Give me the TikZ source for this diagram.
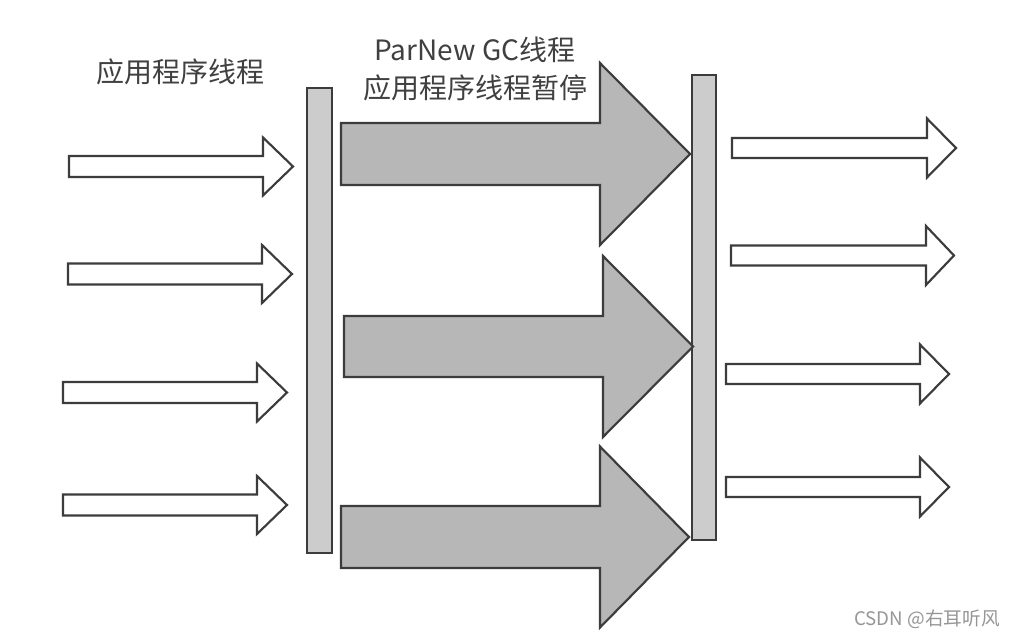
\documentclass[tikz,border=0pt]{standalone}
\usepackage{fontspec}
\setmainfont{Noto Sans CJK SC}
\usetikzlibrary{positioning}
\definecolor{GcLine}{RGB}{60,60,60}
\definecolor{GcBar}{RGB}{204,204,204}
\definecolor{GcPause}{RGB}{183,183,183}
\definecolor{GcText}{RGB}{64,64,64}
\definecolor{GcMark}{RGB}{150,150,150}
\tikzset{
  gc/thread/.style={
    draw=GcLine,
    line width=1.6pt,
    fill=white
  },
  gc/pause/.style={
    draw=GcLine,
    line width=1.6pt,
    fill=GcPause
  },
  gc/bar/.style={
    draw=GcLine,
    line width=1.6pt,
    fill=GcBar,
    inner sep=0pt,
    minimum width=18.5pt,
    minimum height=348.75pt
  },
  gc/label/.style={font=\fontsize{21}{28.5}\selectfont, text=GcText, align=center, inner sep=0pt},
  gc/mark/.style={font=\fontsize{14}{16}\selectfont, text=GcMark, inner sep=0pt}
}
% style, left x, centre y, head base x, tip x, shaft half, head half
\newcommand{\gcarrow}[7]{%
  \draw[#1] (#2,#3-#6) -- (#4,#3-#6) -- (#4,#3-#7) -- (#5,#3)
    -- (#4,#3+#7) -- (#4,#3+#6) -- (#2,#3+#6) -- cycle;}

\begin{document}
\begin{tikzpicture}[x=0.75pt,y=-0.75pt]
  \fill[white] (0,0) rectangle (1014,638);
  \useasboundingbox (0,0) rectangle (1014,638);

  % safepoints
  \node[gc/bar] (stopbar) at (319.5,320.5) {};
  \node[gc/bar] (resumebar) at (704,307.5) {};

  % application threads before the pause
  \gcarrow{gc/thread}{69}{166.5}{263}{293}{10.5}{29}
  \gcarrow{gc/thread}{68}{274}{262}{292}{10.5}{29}
  \gcarrow{gc/thread}{63}{392.5}{257}{287}{10.5}{29}
  \gcarrow{gc/thread}{63}{505}{257}{287}{10.5}{29}

  % ParNew GC threads
  \gcarrow{gc/pause}{341}{154}{600}{690}{31}{91}
  \gcarrow{gc/pause}{344}{346.5}{603}{693}{30.5}{90.5}
  \gcarrow{gc/pause}{341}{537}{600}{689}{31}{90.5}

  % application threads after the pause
  \gcarrow{gc/thread}{732}{148}{927}{956}{10}{29.5}
  \gcarrow{gc/thread}{731}{255.5}{926}{954}{10}{29.5}
  \gcarrow{gc/thread}{726}{374}{920}{949}{10}{29.5}
  \gcarrow{gc/thread}{726}{487}{920}{949}{10}{29.5}

  \node[gc/label] (apptext) at (180,72) {应用程序线程};
  \node[gc/label] (gctext) at (475,69) {ParNew GC线程\\应用程序线程暂停};
  \node[gc/mark,anchor=east] (csdn) at (1000,619) {CSDN @右耳听风};
\end{tikzpicture}
\end{document}
